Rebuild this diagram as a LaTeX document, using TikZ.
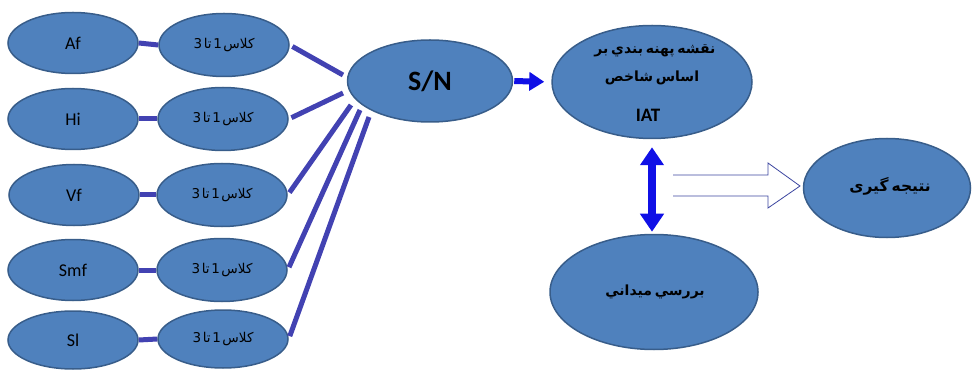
\documentclass[tikz,border=0pt]{standalone}
\usepackage{fontspec}
\setmainfont{Carlito}
\newfontfamily\arabicfont[Script=Arabic]{DejaVu Sans}
\TeXXeTstate=1
\usetikzlibrary{shapes.geometric,arrows.meta,calc}
\newcommand\clssp{\spaceskip=0.12em\relax}
\newcommand\fasp{\spaceskip=0.2em\relax}
\definecolor{ovalfill}{RGB}{79,129,189}
\definecolor{ovalline}{RGB}{56,93,138}
\definecolor{linkc}{RGB}{66,66,178}
\definecolor{arrc}{RGB}{16,16,230}
\definecolor{hollowc}{RGB}{60,70,160}
\tikzset{
  oval/.style={ellipse, draw=ovalline, fill=ovalfill, line width=1.5pt, inner sep=0pt},
  leftoval/.style={oval, minimum width=130pt, minimum height=61pt, font=\fontsize{18}{20}\selectfont},
  clsoval/.style={oval, minimum width=130pt, minimum height=63pt, font=\arabicfont\fontsize{13.5}{15}\selectfont\clssp},
  link/.style={draw=linkc, line width=5pt},
  fan/.style={draw=linkc, line width=5pt, shorten <=3pt},
  fatext/.style={inner sep=0pt, font=\arabicfont\bfseries\fontsize{14}{16}\selectfont\fasp},
}
\begin{document}
\begin{tikzpicture}[x=1pt,y=-1pt]
\useasboundingbox (0,0) rectangle (973,371);
% left column
\node[leftoval] (a1) at (73,43) {Af};
\node[leftoval] (a2) at (73,119) {Hi};
\node[leftoval] (a3) at (74,195) {Vf};
\node[leftoval] (a4) at (73,270) {Smf};
\node[leftoval, minimum height=58pt] (a5) at (73,340) {Sl};
% class column
\node[clsoval] (c1) at (224,45) {\beginR کلاس 1 تا 3\endR};
\node[clsoval] (c2) at (223,119) {\beginR کلاس 1 تا 3\endR};
\node[clsoval] (c3) at (222,195) {\beginR کلاس 1 تا 3\endR};
\node[clsoval] (c4) at (222,270) {\beginR کلاس 1 تا 3\endR};
\node[clsoval, minimum height=58pt] (c5) at (223,339) {\beginR کلاس 1 تا 3\endR};
\foreach \i in {1,...,5} {\draw[link] (a\i.east) -- (c\i.west);}
% S/N
\node[oval, minimum width=165pt, minimum height=82pt, font=\bfseries\fontsize{28}{30}\selectfont] (sn) at (430,81) {S/N};
\coordinate (t1) at (343,75);
\coordinate (t2) at (343,93);
\coordinate (t3) at (351,105);
\coordinate (t4) at (360,110);
\coordinate (t5) at (369,117);
\foreach \i in {1,...,5} {\draw[fan] (c\i.east) -- (t\i);}
% IAT map
\node[oval, minimum width=200pt, minimum height=113pt] (iat) at (652,82) {};
\node[fatext] (iat1) at (655,51) {\beginR نقشه پهنه بندي بر\endR};
\node[fatext] (iat2) at (652,78) {\beginR اساس شاخص\endR};
\node[inner sep=0pt, font=\bfseries\fontsize{19}{21}\selectfont] (iat3) at (648,115) {IAT};
% field survey
\node[oval, minimum width=208pt, minimum height=115pt] (bot) at (654,292) {};
\node[fatext] (bottxt) at (655,292) {\beginR بررسي ميداني\endR};
% conclusion
\node[oval, minimum width=167pt, minimum height=99pt] (res) at (887,188) {};
\node[fatext, font=\arabicfont\bfseries\fontsize{15.5}{17}\selectfont\fasp] (restxt) at (890,186) {\beginR نتیجه گیری\endR};
% arrows
\draw[arrc, line width=6pt, shorten <=1pt, shorten >=7pt, -{Triangle[length=15pt,width=18pt]}] (sn.east) -- (iat.west);
\draw[arrc, line width=8pt, shorten <=8pt, shorten >=2pt, {Triangle[length=18pt,width=23pt]}-{Triangle[length=18pt,width=23pt]}] (iat.south) -- (iat.south |- bot.north);
\coordinate (hs) at (673,185.5);
\coordinate (ht) at (800,186);
\draw[hollowc, line width=0.8pt, fill=white] ($(hs)+(0,-10.5)$) -- (768,175) -- (768,163) -- (ht) -- (768,208) -- (768,196) -- ($(hs)+(0,10.5)$);
\end{tikzpicture}
\end{document}
